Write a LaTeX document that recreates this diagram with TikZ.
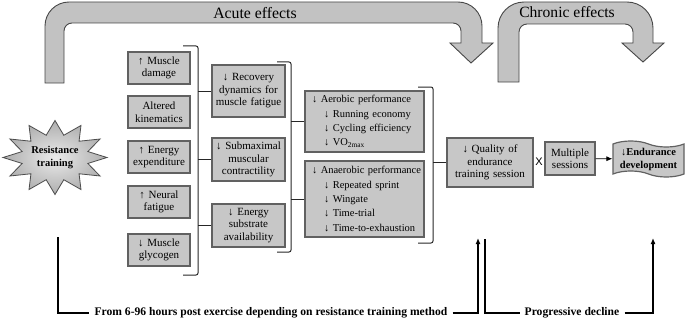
\documentclass[tikz,border=0pt]{standalone}
\usepackage{fontspec}
\setmainfont{Liberation Serif}
\newfontfamily\sansx{Liberation Sans}
\usetikzlibrary{shapes.symbols,arrows.meta}
\begin{document}
\begin{tikzpicture}[x=1pt,y=1pt,
  box/.style={draw=black!62, line width=1.2pt, fill=black!22, inner sep=0pt, align=center,
    font=\fontsize{11}{12.5}\selectfont},
  lbox/.style={box, align=left, font=\fontsize{10.5}{14.3}\selectfont},
  bigarrow/.style={fill=black!24, draw=black!72, line width=0.9pt},
  br/.style={line width=1pt, black!85},
  bline/.style={line width=1.4pt},
  lbl/.style={font=\bfseries\fontsize{11.6}{13}\selectfont, inner ysep=0pt, inner xsep=5pt},
  tip/.style={-{Latex[length=6pt,width=5pt]}}
]
\useasboundingbox (0,0) rectangle (685,322);

% Acute effects arrow
\draw[bigarrow] (45,239) -- (45,296) arc (180:90:24pt) -- (458,320) arc (90:0:24pt)
  -- (482,279) -- (493,279) -- (471,259) -- (450,279) -- (461,279) -- (461,291)
  arc (0:90:8pt) -- (72,299) arc (90:180:8pt) -- (64,239) -- cycle;
\node[font=\fontsize{15.8}{17}\selectfont] (acute) at (255,309) {Acute effects};

% Chronic effects arrow
\draw[bigarrow] (498,240) -- (498,294) arc (180:90:26pt) -- (627,320) arc (90:0:26pt)
  -- (653,279) -- (664,279) -- (643,260) -- (622,279) -- (633,279) -- (633,290)
  arc (0:90:8pt) -- (527,298) arc (90:180:8pt) -- (519,240) -- cycle;
\node[font=\fontsize{15.6}{17}\selectfont] (chronic) at (567,310) {Chronic effects};

% Starburst
\shadedraw[draw=black!70, line width=0.8pt, inner color=black!8, outer color=black!32]
  plot[samples at={0,...,23}, variable=\k]
  ({55+ifthenelse(mod(\k,2)==0,52,34)*cos(\k*15+90)},
   {164.5+ifthenelse(mod(\k,2)==0,37,23)*sin(\k*15+90)}) -- cycle;
\node[font=\bfseries\fontsize{10.5}{13}\selectfont, align=center] (rt) at (55,164.5) {Resistance\\training};

% Left column
\tikzset{lc/.style={box, minimum width=62pt, minimum height=32pt, text width=60pt}}
\node[lc] (md) at (159,254) {↑ Muscle\\damage};
\node[lc] (ak) at (159,210) {Altered\\kinematics};
\node[lc] (ee) at (159,165) {↑ Energy\\expenditure};
\node[lc] (nf) at (159,120) {↑ Neural\\fatigue};
\node[lc] (mg) at (159,72) {↓ Muscle\\glycogen};

% Bracket 1
\coordinate (b1t) at (198,276);
\coordinate (b1b) at (198,47);
\draw[br, rounded corners=2pt] (183,276) -- (b1t) -- (b1b) -- (183,47);

% Middle column
\tikzset{mc/.style={box, minimum width=73pt, text width=71pt}}
\node[mc, minimum height=52pt] (rec) at (248.5,231) {↓ Recovery\\dynamics for\\muscle fatigue};
\node[mc, minimum height=43pt] (sub) at (248.5,162.5) {↓ Submaximal\\muscular\\contractility};
\node[mc, minimum height=43pt] (ens) at (248.5,96.5) {↓ Energy\\substrate\\availability};
\draw[br] (rec.west) -- (rec.west -| b1t);
\draw[br] (sub.west) -- (sub.west -| b1t);
\draw[br] (ens.west) -- (ens.west -| b1t);

% Bracket 2
\coordinate (b2t) at (291,260);
\coordinate (b2b) at (291,70);
\draw[br, rounded corners=2pt] (277,260) -- (b2t) -- (b2b) -- (277,70);

% Right column
\tikzset{rc/.style={lbox, minimum width=119pt, text width=111pt}}
\node[rc, minimum height=61pt] (aer) at (364.5,200.5) {\mbox{\hspace*{3pt}↓ Aerobic performance}\\
  \mbox{\hspace*{15pt}↓ Running economy}\\
  \mbox{\hspace*{15pt}↓ Cycling efficiency}\\
  \mbox{\hspace*{15pt}↓ VO\textsubscript{2max}}};
\node[rc, minimum height=76pt] (ana) at (364.5,123) {\mbox{\hspace*{3pt}↓ Anaerobic performance}\\
  \mbox{\hspace*{15pt}↓ Repeated sprint}\\
  \mbox{\hspace*{15pt}↓ Wingate}\\
  \mbox{\hspace*{15pt}↓ Time-trial}\\
  \mbox{\hspace*{15pt}↓ Time-to-exhaustion}};
\draw[br] (aer.west) -- (aer.west -| b2t);
\draw[br] (ana.west) -- (ana.west -| b2t);

% Bracket 3
\coordinate (b3t) at (433,235);
\coordinate (b3b) at (433,79);
\draw[br, rounded corners=2pt] (418,235) -- (b3t) -- (b3b) -- (418,79);

% Quality and sessions
\node[box, minimum width=86pt, minimum height=49pt, text width=84pt] (qual) at (490,159.5)
  {↓ Quality of\\endurance\\training session};
\draw[br] (qual.west) -- (qual.west -| b3t);
\node[font=\sansx\fontsize{11}{12}\selectfont, inner sep=0pt] (xx) at (539,160) {X};
\node[box, minimum width=50pt, minimum height=33pt, text width=48pt] (mult) at (570,163.5)
  {Multiple\\sessions};
\node[box, tape, tape bend top=out and in, tape bend bottom=out and in, tape bend height=6pt,
  minimum width=71pt, minimum height=36pt, text width=69pt,
  font=\bfseries\fontsize{10.5}{13}\selectfont] (endu) at (648.5,163)
  {↓Endurance\\development};
\draw[tip, line width=0.8pt] (mult) -- (endu);

% Bottom timeline
\node[lbl] (from) at (271,9) {From 6-96 hours post exercise depending on resistance training method};
\coordinate (l1) at (58,85);
\coordinate (a1) at (478,84);
\draw[bline] (l1) |- (from.west);
\draw[bline, tip] (from.east) -| (a1);

\node[lbl] (prog) at (572,9) {Progressive decline};
\coordinate (l2) at (485,83);
\coordinate (a2) at (653,84);
\draw[bline] (l2) |- (prog.west);
\draw[bline, tip] (prog.east) -| (a2);
\end{tikzpicture}
\end{document}
